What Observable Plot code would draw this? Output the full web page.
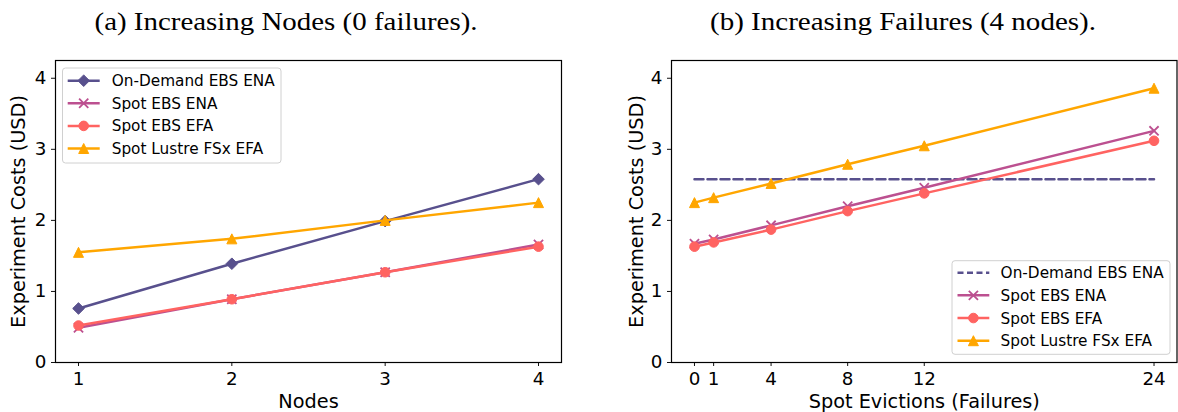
<!DOCTYPE html>
<html>
<head>
<meta charset="utf-8">
<script src="https://cdn.jsdelivr.net/npm/d3@7"></script>
<script src="https://cdn.jsdelivr.net/npm/@observablehq/plot@0.6"></script>
<style>
  html, body { margin: 0; padding: 0; background: #fff; }
  #page { position: relative; width: 1178px; height: 412px; overflow: hidden; background: #fff; }
  #left { position: absolute; left: 0; top: 45px; }
  #right { position: absolute; left: 589px; top: 45px; }
  #overlay { position: absolute; left: 0; top: 0; pointer-events: none; }
</style>
</head>
<body>
<div id="page">
  <div id="left"></div>
  <div id="right"></div>
  <svg id="overlay" width="1178" height="412"></svg>
</div>
<script>
// ---------- data ----------
const seriesNames = ["On-Demand EBS ENA", "Spot EBS ENA", "Spot EBS EFA", "Spot Lustre FSx EFA"];
const seriesColors = ["#58508d", "#bc5090", "#ff6361", "#ffa600"];
const titles = ["(a) Increasing Nodes (0 failures).", "(b) Increasing Failures (4 nodes)."];
const yLabel = "Experiment Costs (USD)";
const xLabels = ["Nodes", "Spot Evictions (Failures)"];
const yTicks = [0, 1, 2, 3, 4];

const nodes = [1, 2, 3, 4];
const nodesOnDemandEbsEna = [0.76, 1.39, 1.99, 2.58];
const nodesSpotEbsEna = [0.49, 0.89, 1.27, 1.66];
const nodesSpotEbsEfa = [0.52, 0.89, 1.27, 1.63];
const nodesSpotLustreEfa = [1.55, 1.74, 2.00, 2.25];

const failures = [0, 1, 4, 8, 12, 24];
const failOnDemandEbsEna = [2.58, 2.58, 2.58, 2.58, 2.58, 2.58];
const failSpotEbsEna = [1.67, 1.73, 1.93, 2.20, 2.46, 3.26];
const failSpotEbsEfa = [1.63, 1.69, 1.87, 2.13, 2.38, 3.12];
const failSpotLustreEfa = [2.25, 2.32, 2.52, 2.79, 3.05, 3.86];

// ---------- marker symbols (matplotlib-like) ----------
const symDiamond = {draw(c) { const s = 5.8; c.moveTo(0, -s); c.lineTo(s, 0); c.lineTo(0, s); c.lineTo(-s, 0); c.closePath(); }};
const symTimes = {draw(c) { const s = 4.6; c.moveTo(-s, -s); c.lineTo(s, s); c.moveTo(-s, s); c.lineTo(s, -s); }};
const symCircle = {draw(c) { const r = 4.8; c.moveTo(r, 0); c.arc(0, 0, r, 0, 2 * Math.PI); }};
const symTriangle = {draw(c) { const s = 5; c.moveTo(0, -s); c.lineTo(s, s); c.lineTo(-s, s); c.closePath(); }};
const symbols = [symDiamond, symTimes, symCircle, symTriangle];
const filled = [true, false, true, true];

function seriesMarks(xs, ysList, dashedFirst) {
  const marks = [];
  ysList.forEach((ys, i) => {
    const data = xs.map((x, j) => ({x, y: ys[j]}));
    const dashed = dashedFirst && i === 0;
    marks.push(Plot.line(data, {x: "x", y: "y", stroke: seriesColors[i], strokeWidth: 2.5,
      strokeDasharray: dashed ? "9,4" : null}));
    if (!dashed) {
      marks.push(Plot.dot(data, {x: "x", y: "y", r: 5, symbol: symbols[i],
        fill: filled[i] ? seriesColors[i] : "none", stroke: seriesColors[i],
        strokeWidth: filled[i] ? 1 : 1.8}));
    }
  });
  return marks;
}

const intFmt = d3.format("d");

function panel({xs, ysList, xTicks, xDomain, xLabel, marginLeft, marginRight, dashedFirst, yLabelOffset}) {
  return Plot.plot({
    width: 589, height: 367,
    marginTop: 15, marginBottom: 50, marginLeft, marginRight,
    style: {fontFamily: "DejaVu Sans", color: "#000", background: "transparent", overflow: "visible"},
    x: {domain: xDomain},
    y: {domain: [0, 4.25]},
    marks: [
      Plot.axisY({ticks: yTicks, tickFormat: intFmt, tickSize: 4, tickPadding: 5, fontSize: 18.3, label: null, stroke: "#111"}),
      Plot.axisY({ticks: [], label: yLabel, labelAnchor: "center", labelArrow: "none", labelOffset: yLabelOffset, fontSize: 19.3}),
      Plot.axisX({ticks: xTicks, tickFormat: intFmt, tickSize: 4, tickPadding: 5, fontSize: 18.3, label: null, stroke: "#111"}),
      Plot.axisX({ticks: [], label: xLabel, labelAnchor: "center", labelArrow: "none", labelOffset: 45, fontSize: 19.3}),
      ...seriesMarks(xs, ysList, dashedFirst),
      Plot.frame({stroke: "#000", strokeWidth: 1.2})
    ]
  });
}

document.getElementById("left").appendChild(panel({
  xs: nodes,
  ysList: [nodesOnDemandEbsEna, nodesSpotEbsEna, nodesSpotEbsEfa, nodesSpotLustreEfa],
  xTicks: nodes, xDomain: [0.85, 4.15], xLabel: xLabels[0],
  marginLeft: 55, marginRight: 28, dashedFirst: false, yLabelOffset: 44
}));
document.getElementById("right").appendChild(panel({
  xs: failures,
  ysList: [failOnDemandEbsEna, failSpotEbsEna, failSpotEbsEfa, failSpotLustreEfa],
  xTicks: failures, xDomain: [-1.2, 25.2], xLabel: xLabels[1],
  marginLeft: 82, marginRight: 1.5, dashedFirst: true, yLabelOffset: 42.5
}));

// ---------- overlay: titles and legends ----------
const ov = d3.select("#overlay");
const titleCenters = [286, 903];
const titleWidths = [383, 386];
titles.forEach((t, i) => {
  ov.append("text")
    .attr("x", titleCenters[i]).attr("y", 30)
    .attr("text-anchor", "middle")
    .attr("font-family", "Liberation Serif, serif")
    .attr("font-size", 25)
    .attr("textLength", titleWidths[i])
    .attr("lengthAdjust", "spacingAndGlyphs")
    .attr("fill", "#000")
    .text(t);
});

function legend(box, rowY0, rowStep, lineX0, lineX1, textX, dashedFirst) {
  const g = ov.append("g");
  g.append("rect").attr("x", box[0]).attr("y", box[1]).attr("width", box[2]).attr("height", box[3])
    .attr("rx", 3).attr("fill", "rgba(255,255,255,0.8)").attr("stroke", "#d0d0d0").attr("stroke-width", 1);
  seriesNames.forEach((name, i) => {
    const y = rowY0 + rowStep * i;
    const dashed = dashedFirst && i === 0;
    g.append("line").attr("x1", lineX0).attr("x2", lineX1).attr("y1", y).attr("y2", y)
      .attr("stroke", seriesColors[i]).attr("stroke-width", 2.5)
      .attr("stroke-dasharray", dashed ? "6,3.5" : null);
    if (!dashed) {
      g.append("path").attr("transform", `translate(${(lineX0 + lineX1) / 2},${y})`)
        .attr("d", d3.symbol(symbols[i])())
        .attr("fill", filled[i] ? seriesColors[i] : "none")
        .attr("stroke", seriesColors[i]).attr("stroke-width", filled[i] ? 1 : 1.8);
    }
    g.append("text").attr("x", textX).attr("y", y).attr("dy", "0.36em")
      .attr("font-family", "DejaVu Sans").attr("font-size", 15.3).attr("fill", "#000")
      .text(name);
  });
}
legend([62.5, 68, 218.5, 95], 80.7, 22.6, 67.7, 99.7, 111.7, false);
legend([952, 260.7, 218, 93.6], 272.7, 22.67, 957.5, 989.3, 1000.6, true);
</script>
</body>
</html>
